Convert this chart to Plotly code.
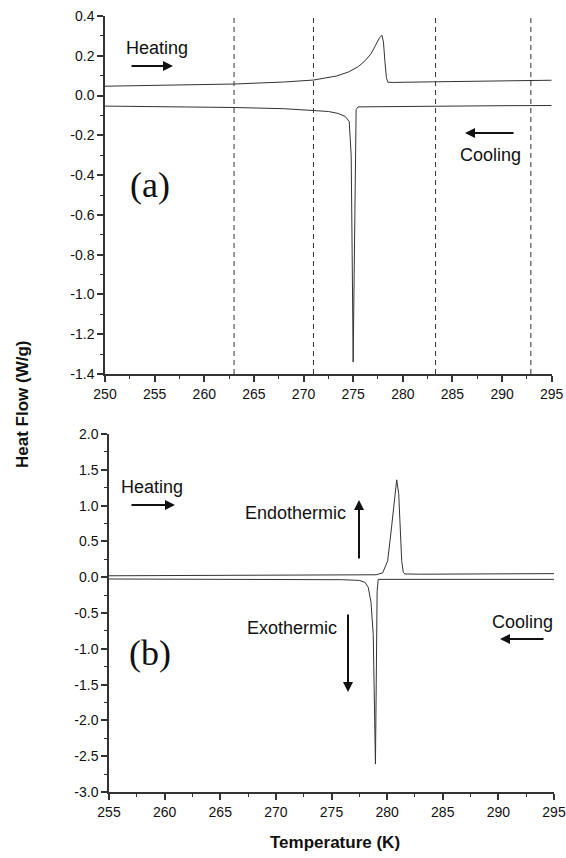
import plotly.graph_objects as go

# ---------------- data ----------------
# Panel (a)
a_heat_T = [250, 256, 263, 268, 271, 273.3, 274.5, 275.5, 276.2, 276.8, 277.3, 277.65, 277.9,
            278.05, 278.2, 278.35, 278.5, 279, 283, 288, 293, 295]
a_heat_HF = [0.047, 0.052, 0.058, 0.068, 0.078, 0.098, 0.118, 0.145, 0.175, 0.21, 0.255, 0.29, 0.303,
             0.27, 0.17, 0.09, 0.067, 0.066, 0.069, 0.072, 0.075, 0.077]
a_cool_T = [250, 256, 263, 268, 271, 272.5, 273.5, 274.2, 274.6, 274.8, 274.9, 275.0, 275.1,
            275.2, 275.3, 275.5, 280, 285, 290, 295]
a_cool_HF = [-0.053, -0.056, -0.060, -0.066, -0.073, -0.08, -0.09, -0.105, -0.13, -0.3, -0.8, -1.34, -0.9,
             -0.4, -0.07, -0.057, -0.054, -0.052, -0.051, -0.050]
a_vlines_T = [263, 271, 283.3, 292.9]

# Panel (b)
b_heat_T = [255, 262, 270, 276, 279.0, 279.6, 280.05, 280.4, 280.68, 280.86, 281.04, 281.19, 281.31,
            281.45, 281.6, 283, 288, 295]
b_heat_HF = [0.02, 0.022, 0.026, 0.03, 0.034, 0.06, 0.23, 0.70, 1.17, 1.36, 1.17, 0.70, 0.23,
             0.07, 0.045, 0.042, 0.045, 0.05]
b_cool_T = [255, 262, 270, 276, 277.5, 278.0, 278.3, 278.55, 278.75, 278.87, 278.95, 279.02, 279.1,
            279.2, 283, 290, 295]
b_cool_HF = [-0.025, -0.027, -0.03, -0.035, -0.045, -0.07, -0.14, -0.35, -0.8, -1.7, -2.61, -1.5, -0.2,
             -0.03, -0.03, -0.03, -0.03]

a_xticks = list(range(250, 296, 5))
a_yticks = [0.4, 0.2, 0.0, -0.2, -0.4, -0.6, -0.8, -1.0, -1.2, -1.4]
b_xticks = list(range(255, 296, 5))
b_yticks = [2.0, 1.5, 1.0, 0.5, 0.0, -0.5, -1.0, -1.5, -2.0, -2.5, -3.0]

# ---------------- layout helpers ----------------
W, H = 566, 858
def px(x):
    return x / W
def py(y):
    return 1 - y / H

def fmt(vals):
    return ["%.1f" % v if abs(v) > 1e-9 else "0.0" for v in vals]

LINE = "#333333"
SANS = "Liberation Sans, Arial, sans-serif"
SERIF = "Liberation Serif, Times New Roman, serif"

fig = go.Figure()
fig.add_trace(go.Scatter(x=a_heat_T, y=a_heat_HF, mode="lines", line=dict(color=LINE, width=1),
                         xaxis="x", yaxis="y", showlegend=False))
fig.add_trace(go.Scatter(x=a_cool_T, y=a_cool_HF, mode="lines", line=dict(color=LINE, width=1),
                         xaxis="x", yaxis="y", showlegend=False))
fig.add_trace(go.Scatter(x=b_heat_T, y=b_heat_HF, mode="lines", line=dict(color=LINE, width=1),
                         xaxis="x2", yaxis="y2", showlegend=False))
fig.add_trace(go.Scatter(x=b_cool_T, y=b_cool_HF, mode="lines", line=dict(color=LINE, width=1),
                         xaxis="x2", yaxis="y2", showlegend=False))

for t in a_vlines_T:
    fig.add_shape(type="line", xref="x", yref="y", x0=t, x1=t, y0=-1.4, y1=0.39,
                  line=dict(color=LINE, width=1, dash="5px,4px"))

axis_common = dict(showline=True, linecolor=LINE, linewidth=1.5, mirror=False, showgrid=False,
                   zeroline=False, ticks="outside", ticklen=6, tickwidth=1.5, tickcolor=LINE,
                   automargin=False,
                   tickfont=dict(family=SANS, size=14, color="#111"),
                   minor=dict(ticks="outside", ticklen=3.5, tickwidth=1.2, tickcolor=LINE))

fig.update_layout(
    width=W, height=H, autosize=False,
    margin=dict(l=0, r=0, t=0, b=0, pad=0),
    paper_bgcolor="white", plot_bgcolor="white",
    xaxis=dict(axis_common, domain=[px(105), px(551.7)], range=[250, 295], anchor="y",
               tickvals=a_xticks, minor=dict(axis_common["minor"], dtick=2.5, tick0=250)),
    yaxis=dict(axis_common, domain=[py(374), py(16)], range=[-1.4, 0.4], anchor="x",
               tickvals=a_yticks, ticktext=fmt(a_yticks),
               minor=dict(axis_common["minor"], dtick=0.1, tick0=0)),
    xaxis2=dict(axis_common, domain=[px(109), px(554)], range=[255, 295], anchor="y2",
                tickvals=b_xticks, minor=dict(axis_common["minor"], dtick=2.5, tick0=255)),
    yaxis2=dict(axis_common, domain=[py(792), py(434)], range=[-3.0, 2.0], anchor="x2",
                tickvals=b_yticks, ticktext=fmt(b_yticks),
                minor=dict(axis_common["minor"], dtick=0.25, tick0=0)),
)

def text(x, y, s, size=18, family=SANS, bold=False, angle=0):
    fig.add_annotation(xref="paper", yref="paper", x=px(x), y=py(y), text=("<b>%s</b>" % s) if bold else s,
                       showarrow=False, xanchor="center", yanchor="middle", textangle=angle,
                       font=dict(family=family, size=size, color="#111"))

def arrow(hx, hy, tx, ty):
    fig.add_annotation(xref="paper", yref="paper", x=px(hx), y=py(hy), ax=tx - hx, ay=ty - hy,
                       axref="pixel", ayref="pixel", text="", showarrow=True,
                       arrowhead=2, arrowsize=1, arrowwidth=2, arrowcolor="#111")

# panel (a) annotations
text(157, 48, "Heating")
arrow(173, 66, 130, 66)
text(490, 155, "Cooling")
arrow(465, 133, 515, 133)
text(150, 185, "(a)", size=36, family=SERIF)

# panel (b) annotations
text(152, 487, "Heating")
arrow(175, 505, 130, 505)
text(295, 513, "Endothermic")
arrow(359, 500, 359, 560)
text(292, 628, "Exothermic")
arrow(348, 692, 348, 613)
text(522, 622, "Cooling")
arrow(500, 639, 545, 639)
text(150, 653, "(b)", size=36, family=SERIF)

# axis titles
text(22, 405, "Heat Flow (W/g)", size=17, bold=True, angle=-90)
text(335, 842, "Temperature (K)", size=17, bold=True)

fig.write_html("out.html")
